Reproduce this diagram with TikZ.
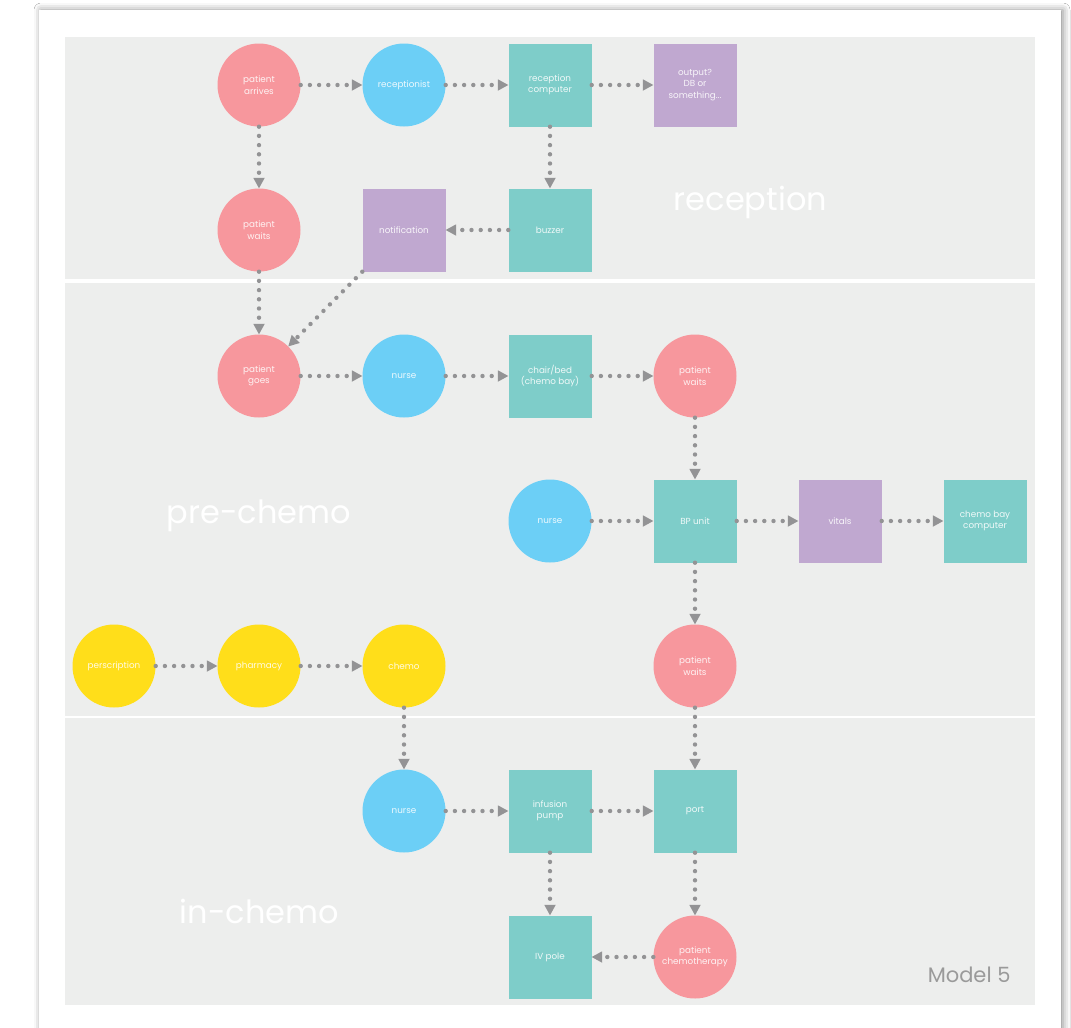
\documentclass[tikz,border=0pt]{standalone}
\usepackage{fontspec}
\setmainfont{Poppins}
\usetikzlibrary{arrows.meta,shadows.blur}
\definecolor{cpink}{HTML}{F7979D}
\definecolor{cblue}{HTML}{6CCFF6}
\definecolor{cteal}{HTML}{7ECDC9}
\definecolor{cpurp}{HTML}{C0A8D0}
\definecolor{cyell}{HTML}{FFDE1A}
\definecolor{cpanel}{HTML}{EDEEED}
\definecolor{cdot}{HTML}{939395}
\definecolor{cmodel}{HTML}{9A9A9A}
\begin{document}
\begin{tikzpicture}[x=1pt,y=-1pt,
  base/.style={inner sep=0pt, minimum size=83pt, align=center, text=white, text opacity=0.88,
    font=\fontsize{8.8}{11.5}\selectfont},
  circ/.style={base, circle},
  sq/.style={base, rectangle},
  pk/.style={circ, fill=cpink},
  bl/.style={circ, fill=cblue},
  yl/.style={circ, fill=cyell},
  tl/.style={sq, fill=cteal},
  pu/.style={sq, fill=cpurp},
  flow/.style={draw=cdot, line width=4.4pt, line cap=round, dash pattern=on 0pt off 9.2pt,
    -{Triangle[length=10.5pt,width=11.5pt,line width=0pt]}},
  section/.style={anchor=base, text=white, font=\fontsize{32}{36}\selectfont}
]
\useasboundingbox (0,0) rectangle (1071,1028);
\clip (0,0) rectangle (1071,1028);
\fill[white] (0,0) rectangle (1071,1028);
% card
\fill[white, blur shadow={shadow xshift=2pt, shadow yshift=0pt, shadow blur radius=7pt, shadow opacity=45}] (39,10) rectangle (1061,1060);
% panels
\fill[cpanel] (65,37) rectangle (1035,279);
\fill[cpanel] (65,283) rectangle (1035,716);
\fill[cpanel] (65,718) rectangle (1035,1005);
% section labels
\node[section] (lrec) at (750.5,210) {reception};
\node[section] (lpre) at (259,523) {pre-chemo};
\node[section] (lin) at (259.5,923) {in-chemo};
\node[anchor=base east, text=cmodel, font=\fontsize{21}{24}\selectfont] (model) at (1014,982) {Model 5};
% nodes
\node[pk] (arr) at (259,85) {patient\\arrives};
\node[bl] (rcp) at (404,85) {receptionist};
\node[tl] (rcomp) at (550,85) {reception\\computer};
\node[pu] (out) at (695,85) {output?\\DB or\\something...};
\node[pk] (pw1) at (259,230) {patient\\waits};
\node[pu] (notif) at (404,230) {notification};
\node[tl] (buzz) at (550,230) {buzzer};
\node[pk] (pg) at (259,376) {patient\\goes};
\node[bl] (n1) at (404,376) {nurse};
\node[tl] (chair) at (550,376) {chair/bed\\(chemo bay)};
\node[pk] (pw2) at (695,376) {patient\\waits};
\node[bl] (n2) at (550,521) {nurse};
\node[tl] (bp) at (695,521) {BP unit};
\node[pu] (vit) at (840,521) {vitals};
\node[tl] (cbc) at (985,521) {chemo bay\\computer};
\node[yl] (pres) at (114,666) {perscription};
\node[yl] (pharm) at (259,666) {pharmacy};
\node[yl] (chemo) at (404,666) {chemo};
\node[pk] (pw3) at (695,666) {patient\\waits};
\node[bl] (n3) at (404,811) {nurse};
\node[tl] (inf) at (550,811) {infusion\\pump};
\node[tl] (port) at (695,811) {port};
\node[tl] (iv) at (550,957) {IV pole};
\node[pk] (pc) at (695,957) {patient\\chemotherapy};
% connectors
\draw[flow] (arr) -- (rcp);
\draw[flow] (rcp) -- (rcomp);
\draw[flow] (rcomp) -- (out);
\draw[flow] (rcomp) -- (buzz);
\draw[flow] (buzz) -- (notif);
\draw[flow] (arr) -- (pw1);
\draw[flow] (pw1) -- (pg);
\draw[flow] (notif.south west) -- (pg);
\draw[flow] (pg) -- (n1);
\draw[flow] (n1) -- (chair);
\draw[flow] (chair) -- (pw2);
\draw[flow] (pw2) -- (bp);
\draw[flow] (n2) -- (bp);
\draw[flow] (bp) -- (vit);
\draw[flow] (vit) -- (cbc);
\draw[flow] (bp) -- (pw3);
\draw[flow] (pres) -- (pharm);
\draw[flow] (pharm) -- (chemo);
\draw[flow] (chemo) -- (n3);
\draw[flow] (pw3) -- (port);
\draw[flow] (n3) -- (inf);
\draw[flow] (inf) -- (port);
\draw[flow] (inf) -- (iv);
\draw[flow] (port) -- (pc);
\draw[flow] (pc) -- (iv);
\end{tikzpicture}
\end{document}
